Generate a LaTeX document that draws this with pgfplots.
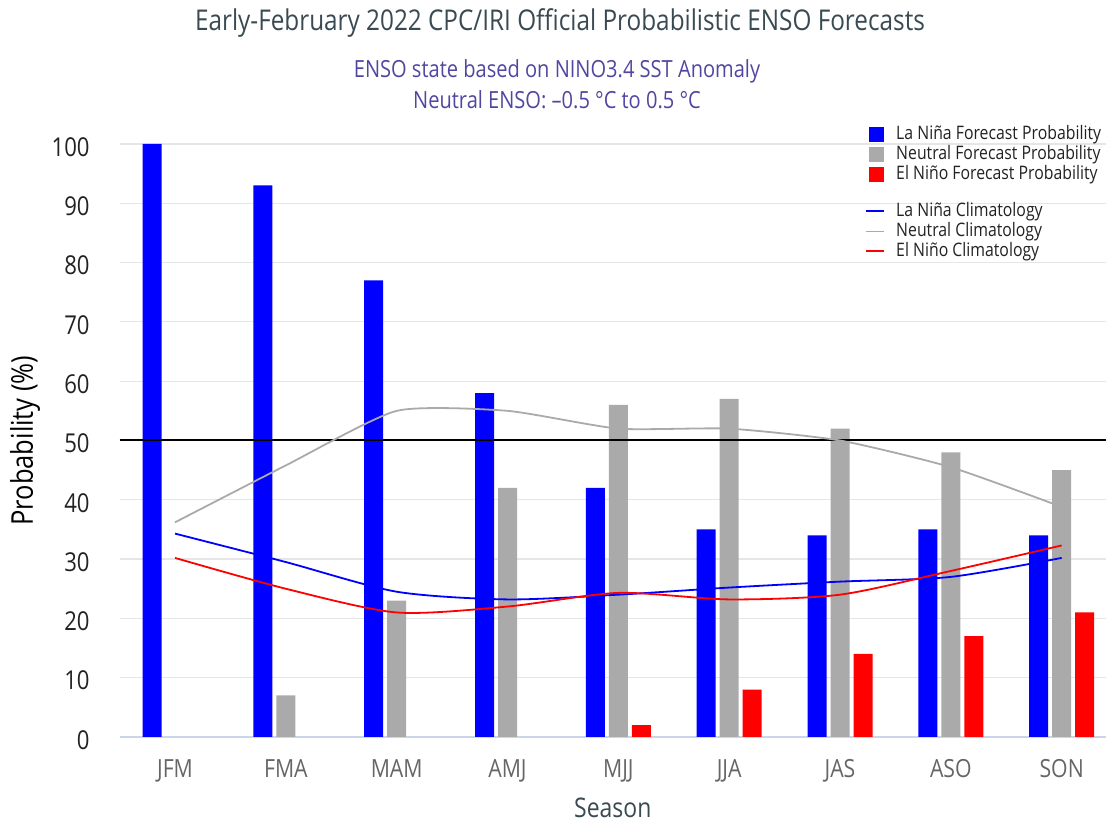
\documentclass[border=0pt]{standalone}
\usepackage{pgfplots}
\pgfplotsset{compat=1.18}
\usepackage{pgfplotstable}
\usepackage{fontspec}
\setmainfont{Open Sans}[FakeStretch=0.85]
\definecolor{nina}{HTML}{0000FF}
\definecolor{neut}{HTML}{AAAAAA}
\definecolor{nino}{HTML}{FF0000}
\definecolor{gridc}{HTML}{E6E6E6}
\definecolor{axisc}{HTML}{CCD6EB}
\definecolor{titlec}{HTML}{3A4A52}
\definecolor{subc}{HTML}{5146A0}
\definecolor{tickx}{HTML}{666666}
\definecolor{ticky}{HTML}{222222}

% forecast probabilities (zero values omitted: nothing is drawn for them)
\pgfplotstableread{
x y
0 100
1 93
2 77
3 58
4 42
5 35
6 34
7 35
8 34
}\fcnina
\pgfplotstableread{
x y
1 7
2 23
3 42
4 56
5 57
6 52
7 48
8 45
}\fcneut
\pgfplotstableread{
x y
4 2
5 8
6 14
7 17
8 21
}\fcnino

\pgfplotstableread{
x lanina neutral elnino
0 34.3 36.2 30.2
1 29.5 45.8 25.0
2 24.5 55.0 21.0
3 23.2 55.0 22.0
4 24.0 52.0 24.3
5 25.2 52.0 23.2
6 26.2 50.0 24.0
7 27.0 45.5 28.0
8 30.2 38.8 32.3
}\clim

\begin{document}
\begin{tikzpicture}
\useasboundingbox (-59.8pt,-42.5pt) rectangle (493.2pt,368.5pt);
\begin{axis}[
  at={(0,0)}, anchor=south west,
  scale only axis, width=493.2pt, height=296.5pt,
  xmin=-0.5, xmax=8.4, ymin=0, ymax=100,
  clip=false,
  xtick={0,...,8},
  xticklabels={JFM,FMA,MAM,AMJ,MJJ,JJA,JAS,ASO,SON},
  ytick={0,10,...,100},
  ymajorgrids, grid style={gridc, line width=0.6pt},
  axis x line*=bottom, axis y line*=left,
  x axis line style={axisc, line width=0.6pt, -},
  y axis line style={draw=none},
  major tick length=0pt,
  /pgf/number format/assume math mode=true,
  xticklabel style={anchor=base, yshift=-20.5pt, text=tickx, font=\fontsize{12.5}{14}\selectfont},
  yticklabel style={anchor=east, inner sep=0pt, xshift=-14.8pt, yshift=-1.5pt, text=ticky, font=\fontsize{13}{15}\selectfont},
  xlabel={Season},
  xlabel style={at={(axis description cs:0.5,-0.136)}, anchor=base, inner sep=0pt, text=titlec, font=\fontsize{13.5}{15}\selectfont},
  ylabel={Probability (\%)},
  ylabel style={at={(axis description cs:-0.0878,0.5)}, anchor=base, rotate=0, text=black, font=\fontsize{15}{17}\selectfont},
  legend cell align=left,
  legend style={at={(0.7557,1.0337)}, anchor=north west, draw=none, fill=none,
    inner sep=0pt, row sep=0pt, column sep=5pt, text=ticky,
    font=\fontsize{9.3}{10}\selectfont,
    nodes={inner sep=0.5pt, text height=7pt, text depth=2pt}},
]
\addplot[ybar, bar width=9.5pt, bar shift=-11.5pt, fill=nina, draw=none, forget plot] table[x=x, y=y] {\fcnina};
\addplot[ybar, bar width=9.5pt, bar shift=0pt, fill=neut, draw=none, forget plot] table[x=x, y=y] {\fcneut};
\addplot[ybar, bar width=9.5pt, bar shift=11.5pt, fill=nino, draw=none, forget plot] table[x=x, y=y] {\fcnino};
\addplot[black, line width=1pt, forget plot] coordinates {(-0.5,50) (8.4,50)};
\addplot[neut, line width=0.9pt, smooth, tension=0.35, forget plot] table[x=x, y=neutral] {\clim};
\addplot[nina, line width=0.9pt, smooth, tension=0.45, forget plot] table[x=x, y=lanina] {\clim};
\addplot[nino, line width=0.9pt, smooth, tension=0.45, forget plot] table[x=x, y=elnino] {\clim};

\addlegendimage{legend image code/.code={\fill[nina] (1.5pt,-3.5pt) rectangle (8.5pt,3.5pt);}}
\addlegendentry{La Niña Forecast Probability}
\addlegendimage{legend image code/.code={\fill[neut] (1.5pt,-3.5pt) rectangle (8.5pt,3.5pt);}}
\addlegendentry{Neutral Forecast Probability}
\addlegendimage{legend image code/.code={\fill[nino] (1.5pt,-3.5pt) rectangle (8.5pt,3.5pt);}}
\addlegendentry{El Niño Forecast Probability}
\addlegendimage{empty legend}
\addlegendentry[text height=7.5pt, text depth=0pt]{}
\addlegendimage{legend image code/.code={\draw[nina, line width=0.9pt] (0pt,0pt) -- (9pt,0pt);}}
\addlegendentry{La Niña Climatology}
\addlegendimage{legend image code/.code={\draw[neut, line width=0.9pt] (0pt,0pt) -- (9pt,0pt);}}
\addlegendentry{Neutral Climatology}
\addlegendimage{legend image code/.code={\draw[nino, line width=0.9pt] (0pt,0pt) -- (9pt,0pt);}}
\addlegendentry{El Niño Climatology}
\end{axis}
\node[anchor=base, text=titlec, font=\fontsize{14.3}{16}\selectfont] at (220.2pt,353pt) {Early-February 2022 CPC/IRI Official Probabilistic ENSO Forecasts};
\node[anchor=base, text=subc, font=\fontsize{11.8}{13}\selectfont] at (218.7pt,329.5pt) {ENSO state based on NINO3.4 SST Anomaly};
\node[anchor=base, text=subc, font=\fontsize{11.8}{13}\selectfont] at (218.7pt,314pt) {Neutral ENSO: –0.5 °C to 0.5 °C};
\end{tikzpicture}
\end{document}
